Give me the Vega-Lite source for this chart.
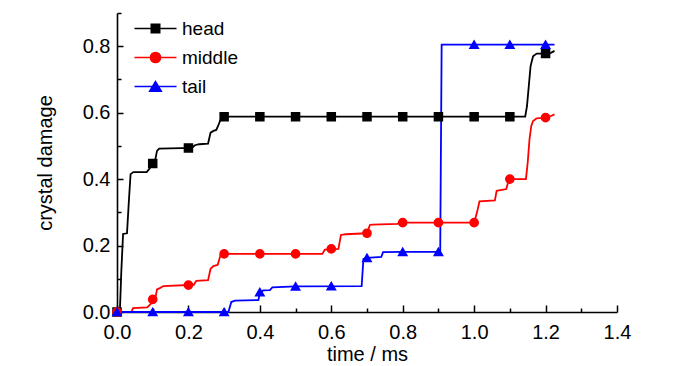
{
  "$schema": "https://vega.github.io/schema/vega-lite/v6.json",
  "autosize": "none",
  "width": 500,
  "height": 299,
  "padding": {"left": 117, "top": 13, "right": 83, "bottom": 54},
  "config": {
    "view": {"stroke": null},
    "font": "Liberation Sans",
    "axis": {
      "labelFont": "Liberation Sans",
      "titleFont": "Liberation Sans",
      "labelFontSize": 20,
      "titleFontSize": 20,
      "titleFontWeight": "normal",
      "labelColor": "#000000",
      "titleColor": "#000000",
      "domainColor": "#000000",
      "tickColor": "#000000",
      "domainWidth": 1.6,
      "tickWidth": 1.5,
      "grid": false,
      "labelOverlap": false,
      "labelFlush": false
    },
    "legend": {
      "labelFont": "Liberation Sans",
      "labelFontSize": 19,
      "labelColor": "#000000"
    }
  },
  "resolve": {"axis": {"x": "independent", "y": "independent"}},
  "datasets": {
    "lines": [
      {"s": "head", "t": 0, "v": 0},
      {"s": "head", "t": 0.008, "v": 0},
      {"s": "head", "t": 0.012, "v": 0.12},
      {"s": "head", "t": 0.017, "v": 0.235},
      {"s": "head", "t": 0.028, "v": 0.237},
      {"s": "head", "t": 0.033, "v": 0.33},
      {"s": "head", "t": 0.038, "v": 0.415},
      {"s": "head", "t": 0.046, "v": 0.421},
      {"s": "head", "t": 0.083, "v": 0.421},
      {"s": "head", "t": 0.09, "v": 0.43},
      {"s": "head", "t": 0.1, "v": 0.447},
      {"s": "head", "t": 0.106, "v": 0.452},
      {"s": "head", "t": 0.112, "v": 0.485},
      {"s": "head", "t": 0.118, "v": 0.492},
      {"s": "head", "t": 0.21, "v": 0.494},
      {"s": "head", "t": 0.218, "v": 0.502},
      {"s": "head", "t": 0.23, "v": 0.505},
      {"s": "head", "t": 0.255, "v": 0.507},
      {"s": "head", "t": 0.262, "v": 0.54},
      {"s": "head", "t": 0.27, "v": 0.545},
      {"s": "head", "t": 0.278, "v": 0.548},
      {"s": "head", "t": 0.283, "v": 0.56},
      {"s": "head", "t": 0.292, "v": 0.585},
      {"s": "head", "t": 0.3, "v": 0.588},
      {"s": "head", "t": 1.143, "v": 0.588},
      {"s": "head", "t": 1.148, "v": 0.62},
      {"s": "head", "t": 1.153, "v": 0.68},
      {"s": "head", "t": 1.158, "v": 0.74},
      {"s": "head", "t": 1.165, "v": 0.77},
      {"s": "head", "t": 1.175, "v": 0.778},
      {"s": "head", "t": 1.2, "v": 0.778},
      {"s": "head", "t": 1.215, "v": 0.78},
      {"s": "head", "t": 1.225, "v": 0.786},

      {"s": "middle", "t": 0, "v": 0},
      {"s": "middle", "t": 0.04, "v": 0},
      {"s": "middle", "t": 0.045, "v": 0.012},
      {"s": "middle", "t": 0.085, "v": 0.014},
      {"s": "middle", "t": 0.095, "v": 0.025},
      {"s": "middle", "t": 0.1, "v": 0.038},
      {"s": "middle", "t": 0.108, "v": 0.045},
      {"s": "middle", "t": 0.112, "v": 0.068},
      {"s": "middle", "t": 0.12, "v": 0.072},
      {"s": "middle", "t": 0.13, "v": 0.078},
      {"s": "middle", "t": 0.215, "v": 0.082},
      {"s": "middle", "t": 0.222, "v": 0.094},
      {"s": "middle", "t": 0.255, "v": 0.096},
      {"s": "middle", "t": 0.262, "v": 0.13},
      {"s": "middle", "t": 0.27, "v": 0.138},
      {"s": "middle", "t": 0.282, "v": 0.142},
      {"s": "middle", "t": 0.29, "v": 0.172},
      {"s": "middle", "t": 0.3, "v": 0.175},
      {"s": "middle", "t": 0.575, "v": 0.175},
      {"s": "middle", "t": 0.582, "v": 0.188},
      {"s": "middle", "t": 0.62, "v": 0.19},
      {"s": "middle", "t": 0.627, "v": 0.232},
      {"s": "middle", "t": 0.64, "v": 0.234},
      {"s": "middle", "t": 0.7, "v": 0.237},
      {"s": "middle", "t": 0.708, "v": 0.262},
      {"s": "middle", "t": 0.715, "v": 0.263},
      {"s": "middle", "t": 0.785, "v": 0.265},
      {"s": "middle", "t": 0.79, "v": 0.269},
      {"s": "middle", "t": 1.0, "v": 0.269},
      {"s": "middle", "t": 1.008, "v": 0.3},
      {"s": "middle", "t": 1.015, "v": 0.333},
      {"s": "middle", "t": 1.058, "v": 0.336},
      {"s": "middle", "t": 1.063, "v": 0.365},
      {"s": "middle", "t": 1.09, "v": 0.37},
      {"s": "middle", "t": 1.095, "v": 0.39},
      {"s": "middle", "t": 1.1, "v": 0.4},
      {"s": "middle", "t": 1.145, "v": 0.4},
      {"s": "middle", "t": 1.15, "v": 0.45},
      {"s": "middle", "t": 1.155, "v": 0.52},
      {"s": "middle", "t": 1.16, "v": 0.56},
      {"s": "middle", "t": 1.165, "v": 0.575},
      {"s": "middle", "t": 1.175, "v": 0.583},
      {"s": "middle", "t": 1.2, "v": 0.585},
      {"s": "middle", "t": 1.215, "v": 0.59},
      {"s": "middle", "t": 1.225, "v": 0.595},

      {"s": "tail", "t": 0, "v": 0},
      {"s": "tail", "t": 0.312, "v": 0},
      {"s": "tail", "t": 0.32, "v": 0.03},
      {"s": "tail", "t": 0.33, "v": 0.034},
      {"s": "tail", "t": 0.396, "v": 0.036},
      {"s": "tail", "t": 0.4, "v": 0.06},
      {"s": "tail", "t": 0.41, "v": 0.065},
      {"s": "tail", "t": 0.428, "v": 0.066},
      {"s": "tail", "t": 0.435, "v": 0.074},
      {"s": "tail", "t": 0.5, "v": 0.077},
      {"s": "tail", "t": 0.685, "v": 0.078},
      {"s": "tail", "t": 0.69, "v": 0.16},
      {"s": "tail", "t": 0.7, "v": 0.163},
      {"s": "tail", "t": 0.74, "v": 0.166},
      {"s": "tail", "t": 0.745, "v": 0.18},
      {"s": "tail", "t": 0.8, "v": 0.181},
      {"s": "tail", "t": 0.905, "v": 0.181},
      {"s": "tail", "t": 0.909, "v": 0.805},
      {"s": "tail", "t": 1.225, "v": 0.805}
    ],
    "markers": [
      {"s": "head", "t": 0, "v": 0},
      {"s": "head", "t": 0.1, "v": 0.447},
      {"s": "head", "t": 0.2, "v": 0.494},
      {"s": "head", "t": 0.3, "v": 0.588},
      {"s": "head", "t": 0.4, "v": 0.588},
      {"s": "head", "t": 0.5, "v": 0.588},
      {"s": "head", "t": 0.6, "v": 0.588},
      {"s": "head", "t": 0.7, "v": 0.588},
      {"s": "head", "t": 0.8, "v": 0.588},
      {"s": "head", "t": 0.9, "v": 0.588},
      {"s": "head", "t": 1.0, "v": 0.588},
      {"s": "head", "t": 1.1, "v": 0.588},
      {"s": "head", "t": 1.2, "v": 0.778},
      {"s": "middle", "t": 0, "v": 0},
      {"s": "middle", "t": 0.1, "v": 0.038},
      {"s": "middle", "t": 0.2, "v": 0.081},
      {"s": "middle", "t": 0.3, "v": 0.175},
      {"s": "middle", "t": 0.4, "v": 0.175},
      {"s": "middle", "t": 0.5, "v": 0.175},
      {"s": "middle", "t": 0.6, "v": 0.19},
      {"s": "middle", "t": 0.7, "v": 0.237},
      {"s": "middle", "t": 0.8, "v": 0.269},
      {"s": "middle", "t": 0.9, "v": 0.269},
      {"s": "middle", "t": 1.0, "v": 0.269},
      {"s": "middle", "t": 1.1, "v": 0.4},
      {"s": "middle", "t": 1.2, "v": 0.585},
      {"s": "tail", "t": 0, "v": 0},
      {"s": "tail", "t": 0.1, "v": 0},
      {"s": "tail", "t": 0.2, "v": 0},
      {"s": "tail", "t": 0.3, "v": 0},
      {"s": "tail", "t": 0.4, "v": 0.06},
      {"s": "tail", "t": 0.5, "v": 0.077},
      {"s": "tail", "t": 0.6, "v": 0.078},
      {"s": "tail", "t": 0.7, "v": 0.163},
      {"s": "tail", "t": 0.8, "v": 0.181},
      {"s": "tail", "t": 0.9, "v": 0.181},
      {"s": "tail", "t": 1.0, "v": 0.805},
      {"s": "tail", "t": 1.1, "v": 0.805},
      {"s": "tail", "t": 1.2, "v": 0.805}
    ]
  },
  "layer": [
    {
      "data": {"name": "markers"},
      "mark": {"type": "point", "opacity": 0},
      "encoding": {
        "x": {
          "field": "t", "type": "quantitative",
          "scale": {"domain": [0, 1.4], "nice": false, "zero": false},
          "axis": {
            "title": null, "orient": "bottom", "labels": false, "domain": false,
            "values": [0.1, 0.3, 0.5, 0.7, 0.9, 1.1, 1.3],
            "tickSize": -4
          }
        },
        "y": {
          "field": "v", "type": "quantitative",
          "scale": {"domain": [0, 0.9], "nice": false, "zero": false},
          "axis": {
            "title": null, "orient": "left", "labels": false, "domain": false,
            "values": [0.1, 0.3, 0.5, 0.7, 0.9],
            "tickSize": -4
          }
        }
      }
    },
    {
      "data": {"name": "lines"},
      "mark": {"type": "line", "strokeWidth": 1.8, "interpolate": "linear"},
      "encoding": {
        "x": {
          "field": "t", "type": "quantitative",
          "scale": {"domain": [0, 1.4], "nice": false, "zero": false},
          "axis": {
            "title": "time / ms", "orient": "bottom",
            "values": [0, 0.2, 0.4, 0.6, 0.8, 1.0, 1.2, 1.4],
            "format": ".1f",
            "tickSize": -7,
            "labelPadding": 17,
            "titlePadding": 2
          }
        },
        "y": {
          "field": "v", "type": "quantitative",
          "scale": {"domain": [0, 0.9], "nice": false, "zero": false},
          "axis": {
            "title": "crystal damage", "orient": "left",
            "values": [0, 0.2, 0.4, 0.6, 0.8],
            "format": ".1f",
            "tickSize": -6,
            "labelPadding": 13,
            "titlePadding": 27
          }
        },
        "stroke": {
          "field": "s", "type": "nominal",
          "scale": {"range": ["#000000", "#ff0000", "#0000ff"]},
          "legend": null
        },
        "order": {"field": "t", "type": "quantitative"}
      }
    },
    {
      "data": {"name": "markers"},
      "mark": {
        "type": "point", "filled": true, "opacity": 1, "strokeWidth": 1.5,
        "stroke": {"expr": "(datum.s || datum.value)==='head' ? '#000000' : (datum.s || datum.value)==='middle' ? '#ff0000' : '#0000ff'"}
      },
      "encoding": {
        "x": {"field": "t", "type": "quantitative", "axis": null},
        "y": {"field": "v", "type": "quantitative", "axis": null},
        "color": {
          "field": "s", "type": "nominal",
          "scale": {"domain": ["head", "middle", "tail"], "range": ["#000000", "#ff0000", "#0000ff"]},
          "legend": {
            "title": null,
            "orient": "none",
            "legendX": 27,
            "legendY": 4,
            "padding": 0,
            "symbolSize": 441,
            "symbolStrokeWidth": 1.6,
            "symbolType": {"expr": "datum.value==='head' ? 'M-2,0H2M-0.4,-0.4H0.4V0.4H-0.4Z' : datum.value==='middle' ? 'M-2,0H2M-0.48,0A0.48,0.48,0,1,0,0.48,0A0.48,0.48,0,1,0,-0.48,0Z' : 'M-2,0H2M0,-0.47L0.55,0.45H-0.55Z'"},
            "labelOffset": 15,
            "rowPadding": 7,
            "labelFont": "Liberation Sans",
            "labelFontSize": 19,
            "labelColor": "#000000"
          }
        },
        "shape": {
          "field": "s", "type": "nominal",
          "scale": {"range": ["square", "circle", "triangle-up"]},
          "legend": null
        },
        "size": {
          "field": "s", "type": "nominal",
          "scale": {"range": [64, 70, 100]},
          "legend": null
        }
      }
    }
  ]
}
